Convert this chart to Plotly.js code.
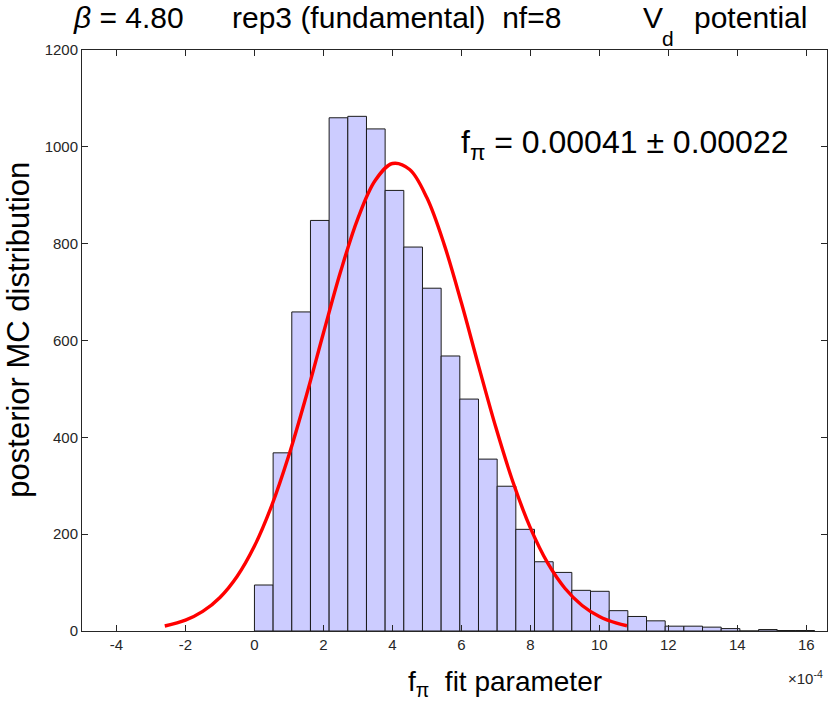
<!DOCTYPE html>
<html>
<head>
<meta charset="utf-8">
<script src="https://cdn.plot.ly/plotly-3.0.1.min.js"></script>
<style>html,body{margin:0;padding:0;background:#fff;}#chart{width:830px;height:710px;}</style>
</head>
<body>
<div id="chart"></div>
<script>
// Histogram of posterior MC distribution (x in units of 1e-4)
const binStart = 0;
const binWidth = 0.5413;
const binCounts = [95, 368, 659, 848, 1060, 1063, 1037, 910, 793, 708,
                   568, 479, 355, 299, 210, 143, 121, 84, 82, 42,
                   30, 21, 10, 10, 8, 5, 0, 3, 1, 1];

// Gaussian fit curve
const fitX = [-2.6, -2, -1.5, -1, -0.5, 0, 0.5, 1, 1.5, 2, 2.5, 3, 3.5, 4, 4.5, 5, 5.5, 6, 6.5, 7, 7.5, 8, 8.5, 9, 9.5, 10, 10.5, 10.8];
const fitY = [10.3, 22.4, 40.4, 69.3, 113.1, 175.4, 259, 363.4, 485, 615.4, 742.8, 852.4, 930.4, 965.6, 953.1, 894.6, 798.5, 677.8, 547.1, 420.1, 306.6, 212.9, 140.5, 88.3, 52.7, 29.9, 16.1, 10.9];

const xTicks = [-4, -2, 0, 2, 4, 6, 8, 10, 12, 14, 16];
const yTicks = [0, 200, 400, 600, 800, 1000, 1200];

const binCenters = binCounts.map((_, i) => binStart + (i + 0.5) * binWidth);

const FONT = 'Liberation Sans, Arial, Helvetica, sans-serif';
const TXT = '#000000';
const S = '\u00A0';
const sp = n => S.repeat(n);

const traces = [
  {
    type: 'bar',
    x: binCenters,
    y: binCounts,
    width: binWidth,
    marker: {color: '#ccccff', line: {color: '#1a1a1a', width: 1}},
    hoverinfo: 'skip'
  },
  {
    type: 'scatter',
    mode: 'lines',
    x: fitX,
    y: fitY,
    line: {color: '#ff0000', width: 3.4, shape: 'spline', smoothing: 1},
    hoverinfo: 'skip'
  }
];

const axisCommon = {
  showgrid: false,
  zeroline: false,
  showline: true,
  linecolor: '#262626',
  linewidth: 1,
  mirror: 'ticks',
  ticks: 'inside',
  ticklen: 6,
  tickwidth: 1,
  tickcolor: '#262626',
  tickfont: {family: FONT, size: 15, color: '#262626'}
};

const titleY = 1.0560;
const titleFont = {family: FONT, size: 30, color: TXT};

function titlePiece(x, text, extra) {
  return Object.assign({
    xref: 'paper', yref: 'paper', x: x, y: titleY,
    xanchor: 'left', yanchor: 'middle', showarrow: false,
    text: text, font: titleFont
  }, extra || {});
}

const layout = {
  width: 830,
  height: 710,
  margin: {l: 82, r: 3, t: 50, b: 79},
  paper_bgcolor: '#ffffff',
  plot_bgcolor: '#ffffff',
  showlegend: false,
  bargap: 0,
  xaxis: Object.assign({}, axisCommon, {
    range: [-5, 16.6],
    tickvals: xTicks,
    ticktext: xTicks.map(String)
  }),
  yaxis: Object.assign({}, axisCommon, {
    range: [0, 1200],
    tickvals: yTicks,
    ticktext: yTicks.map(String)
  }),
  annotations: [
    titlePiece(-0.0152, '<i>β</i> = 4.80'),
    titlePiece(0.1984, 'rep3 (fundamental)' + sp(2) + 'nf=8'),
    titlePiece(0.7505, 'V'),
    titlePiece(0.7760, 'd', {y: 1.0205, font: {family: FONT, size: 21, color: TXT}}),
    titlePiece(0.8190, 'potential'),
    {
      xref: 'paper', yref: 'paper', x: -0.0864, y: 0.518,
      xanchor: 'center', yanchor: 'middle', showarrow: false, textangle: -90,
      text: 'posterior MC distribution',
      font: {family: FONT, size: 31, color: TXT}
    },
    {
      xref: 'paper', yref: 'paper', x: 0.568, y: -0.0901,
      xanchor: 'center', yanchor: 'middle', showarrow: false,
      text: 'f<sub>π</sub>' + sp(2) + 'fit parameter',
      font: {family: FONT, size: 28, color: TXT}
    },
    {
      xref: 'paper', yref: 'paper', x: 0.729, y: 0.837,
      xanchor: 'center', yanchor: 'middle', showarrow: false,
      text: 'f<sub>π</sub> = 0.00041 ± 0.00022',
      font: {family: FONT, size: 32, color: TXT}
    },
    {
      xref: 'paper', yref: 'paper', x: 0.9709, y: -0.0805,
      xanchor: 'center', yanchor: 'middle', showarrow: false,
      text: '×10<sup>-4</sup>',
      font: {family: FONT, size: 15, color: '#262626'}
    }
  ]
};

Plotly.newPlot('chart', traces, layout, {displayModeBar: false, staticPlot: true});
</script>
</body>
</html>
